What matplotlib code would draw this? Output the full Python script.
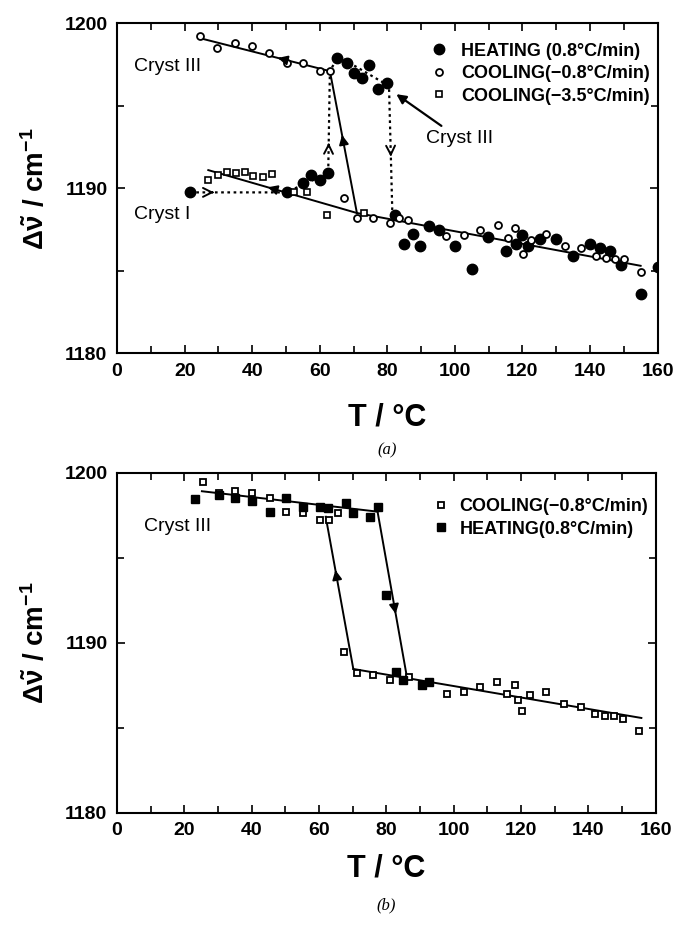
import numpy as np
import matplotlib.pyplot as plt
from matplotlib.ticker import MultipleLocator

plt.rcParams['font.family'] = ['Liberation Sans', 'DejaVu Sans']
plt.rcParams['mathtext.fontset'] = 'custom'
plt.rcParams['mathtext.rm'] = 'Liberation Sans:bold'
plt.rcParams['mathtext.it'] = 'Liberation Sans:bold'
plt.rcParams['mathtext.bf'] = 'Liberation Sans:bold'

# ---- panel (a) data ----
a_heat_T = [21.6, 50.2, 54.9, 57.4, 60.0, 62.5, 65.0, 68.0, 70.0, 72.4, 74.7, 77.3, 80.0,
            82.2, 84.9, 87.6, 89.8, 92.4, 95.3, 100.0, 105.1, 109.8, 115.1, 118.2, 120.0,
            121.7, 125.1, 130.0, 135.0, 140.1, 142.9, 145.8, 149.3, 155.1, 160.1]
a_heat_v = [1189.75, 1189.8, 1190.3, 1190.8, 1190.5, 1190.9, 1197.9, 1197.6, 1197.0, 1196.7,
            1197.5, 1196.0, 1196.4, 1188.4, 1186.65, 1187.2, 1186.5, 1187.7, 1187.45, 1186.5,
            1185.1, 1187.05, 1186.2, 1186.6, 1187.15, 1186.5, 1186.95, 1186.95, 1185.9,
            1186.6, 1186.4, 1186.2, 1185.35, 1183.6, 1185.2]

a_cool08_T = [24.5, 29.7, 34.9, 39.8, 45.1, 50.2, 54.9, 60.0, 63.0, 67.2, 70.9, 75.7, 80.7,
              83.4, 86.2, 97.5, 102.6, 107.4, 112.8, 115.7, 117.7, 120.2, 122.6, 127.1,
              132.5, 137.4, 141.9, 144.8, 147.3, 150.2, 155.0]
a_cool08_v = [1199.2, 1198.5, 1198.8, 1198.6, 1198.2, 1197.6, 1197.6, 1197.1, 1197.1, 1189.4,
              1188.2, 1188.2, 1187.9, 1188.2, 1188.1, 1187.1, 1187.15, 1187.45, 1187.8,
              1187.0, 1187.6, 1186.0, 1186.85, 1187.2, 1186.5, 1186.35, 1185.9, 1185.8,
              1185.74, 1185.7, 1184.9]

a_cool35_T = [27.0, 30.0, 32.4, 35.2, 37.9, 40.3, 43.1, 45.8, 52.4, 56.1, 62.2, 73.1]
a_cool35_v = [1190.5, 1190.8, 1191.0, 1190.9, 1191.0, 1190.75, 1190.7, 1190.85, 1189.8,
              1189.8, 1188.4, 1188.5]

# fit / guide lines
a_top_T, a_top_v = [24.5, 63.0], [1199.1, 1197.1]
a_jump_T, a_jump_v = [71.0, 63.0], [1188.5, 1197.1]
a_low_T, a_low_v = [27.0, 71.0, 155.0], [1191.1, 1188.5, 1185.3]
a_dot_T = [21.6, 50.0, 57.0, 62.5, 63.0, 65.5, 78.0, 80.5, 81.5]
a_dot_v = [1189.75, 1189.75, 1190.4, 1190.9, 1197.1, 1198.0, 1196.5, 1196.2, 1188.4]

# ---- panel (b) data ----
b_cool_T = [25.4, 30.3, 35.1, 40.1, 45.4, 50.2, 55.1, 60.3, 63.0, 65.5, 67.5, 71.2, 76.0,
            81.2, 86.6, 97.9, 103.0, 107.9, 112.9, 115.9, 118.2, 119.2, 120.4, 122.7, 127.5,
            132.9, 137.9, 141.9, 144.9, 147.7, 150.3, 155.2]
b_cool_v = [1199.43, 1198.8, 1198.9, 1198.8, 1198.5, 1197.7, 1197.6, 1197.2, 1197.2, 1197.6,
            1189.45, 1188.2, 1188.1, 1187.8, 1188.0, 1187.0, 1187.1, 1187.4, 1187.7, 1187.0,
            1187.5, 1186.65, 1186.0, 1186.9, 1187.1, 1186.4, 1186.2, 1185.8, 1185.7, 1185.7,
            1185.5, 1184.8]

b_heat_T = [23.2, 30.3, 35.1, 40.0, 45.4, 50.3, 55.1, 60.3, 62.6, 67.9, 70.1, 75.3, 77.4,
            80.0, 83.0, 85.1, 90.5, 92.7]
b_heat_v = [1198.45, 1198.7, 1198.5, 1198.3, 1197.7, 1198.5, 1198.0, 1198.0, 1197.9, 1198.2,
            1197.6, 1197.4, 1198.0, 1192.8, 1188.3, 1187.8, 1187.5, 1187.7]

b_top_T, b_top_v = [25.2, 77.4], [1198.9, 1197.7]
b_drop_T, b_drop_v = [77.4, 86.1], [1197.7, 1188.0]
b_jump_T, b_jump_v = [70.2, 62.0], [1188.45, 1197.4]
b_low_T, b_low_v = [70.2, 155.8], [1188.45, 1185.57]


def arrow_on(ax, T, v, frac, style='-|>', scale=14):
    # arrowhead placed part way along a 2-point segment, pointing from T[0] to T[1]
    T = np.asarray(T, float); v = np.asarray(v, float)
    p1 = (T[0] + (T[1] - T[0]) * frac, v[0] + (v[1] - v[0]) * frac)
    p0 = (T[0] + (T[1] - T[0]) * (frac - 0.02), v[0] + (v[1] - v[0]) * (frac - 0.02))
    ax.annotate('', xy=p1, xytext=p0,
                arrowprops=dict(arrowstyle=style, color='k', lw=1.4,
                                mutation_scale=scale, shrinkA=0, shrinkB=0))


def style_axes(ax, xpad):
    ax.set_xlim(0, 160)
    ax.set_ylim(1180, 1200)
    ax.xaxis.set_major_locator(MultipleLocator(20))
    ax.xaxis.set_minor_locator(MultipleLocator(10))
    ax.yaxis.set_major_locator(MultipleLocator(10))
    ax.yaxis.set_minor_locator(MultipleLocator(5))
    ax.tick_params(which='both', direction='in', top=True, right=True, width=1.2)
    ax.tick_params(which='major', length=6, labelsize=14, pad=7)
    ax.tick_params(which='minor', length=5)
    for lab in ax.get_xticklabels() + ax.get_yticklabels():
        lab.set_fontweight('bold')
    for sp in ax.spines.values():
        sp.set_linewidth(1.5)
    ax.set_xlabel('T / °C', fontsize=22, fontweight='bold', labelpad=xpad)
    ax.set_ylabel(r'$\Delta\tilde{\nu}$ / cm$^{-1}$', fontsize=20, fontweight='bold', labelpad=10)


def bold_legend(ax, anchor, textpad):
    leg = ax.legend(loc='upper right', bbox_to_anchor=anchor, frameon=False, fontsize=13,
                    handletextpad=textpad, labelspacing=0.3, borderaxespad=0.0,
                    handlelength=1.0, borderpad=0.2)
    for t in leg.get_texts():
        t.set_fontweight('bold')


fig = plt.figure(figsize=(6.73, 9.32), dpi=100)
ax1 = fig.add_axes([0.174, 0.621, 0.803, 0.354])
ax2 = fig.add_axes([0.174, 0.128, 0.800, 0.365])

# ---------- (a) ----------
ax1.plot(a_top_T, a_top_v, color='k', lw=1.4)
ax1.plot(a_jump_T, a_jump_v, color='k', lw=1.4)
ax1.plot(a_low_T, a_low_v, color='k', lw=1.4)
ax1.plot(a_dot_T, a_dot_v, color='k', lw=1.6, ls=(0, (1.2, 1.6)))
arrow_on(ax1, [a_top_T[1], a_top_T[0]], [a_top_v[1], a_top_v[0]], 0.40)
arrow_on(ax1, a_jump_T, a_jump_v, 0.55)
arrow_on(ax1, [a_low_T[1], a_low_T[0]], [a_low_v[1], a_low_v[0]], 0.60)
arrow_on(ax1, a_dot_T[0:2], a_dot_v[0:2], 0.25, style='->', scale=16)
arrow_on(ax1, a_dot_T[3:5], a_dot_v[3:5], 0.30, style='->', scale=16)
arrow_on(ax1, a_dot_T[7:9], a_dot_v[7:9], 0.55, style='->', scale=16)

ax1.plot(a_heat_T, a_heat_v, 'o', color='k', ms=7.5, ls='none',
         label='HEATING (0.8°C/min)')
ax1.plot(a_cool08_T, a_cool08_v, 'o', mfc='white', mec='k', mew=1.3, ms=5, ls='none',
         label='COOLING(−0.8°C/min)')
ax1.plot(a_cool35_T, a_cool35_v, 's', mfc='white', mec='k', mew=1.2, ms=5, ls='none',
         label='COOLING(−3.5°C/min)')

ax1.text(5.0, 1197.4, 'Cryst III', fontsize=14, va='center')
ax1.text(5.0, 1188.4, 'Cryst I', fontsize=14, va='center')
ax1.annotate('Cryst III', xy=(82.0, 1195.8), xytext=(91.5, 1193.0), fontsize=14,
             va='center', ha='left',
             arrowprops=dict(arrowstyle='-|>', color='k', lw=1.6, mutation_scale=14,
                             shrinkA=2, shrinkB=2))
bold_legend(ax1, (0.993, 0.952), 0.75)
style_axes(ax1, 16)
fig.text(0.5 * (0.174 + 0.977), 1 - 450 / 932, '(a)', fontsize=12, style='italic',
         family='Liberation Serif', ha='center', va='center')

# ---------- (b) ----------
ax2.plot(b_top_T, b_top_v, color='k', lw=1.4)
ax2.plot(b_drop_T, b_drop_v, color='k', lw=1.4)
ax2.plot(b_jump_T, b_jump_v, color='k', lw=1.4)
ax2.plot(b_low_T, b_low_v, color='k', lw=1.4)
arrow_on(ax2, b_drop_T, b_drop_v, 0.62)
arrow_on(ax2, b_jump_T, b_jump_v, 0.65)

ax2.plot(b_cool_T, b_cool_v, 's', mfc='white', mec='k', mew=1.3, ms=5, ls='none',
         label='COOLING(−0.8°C/min)')
ax2.plot(b_heat_T, b_heat_v, 's', color='k', ms=5.5, ls='none',
         label='HEATING(0.8°C/min)')
ax2.text(8.0, 1196.8, 'Cryst III', fontsize=14, va='center')
bold_legend(ax2, (0.993, 0.935), 0.5)
style_axes(ax2, 10)
fig.text(0.5 * (0.174 + 0.974), 1 - 905 / 932, '(b)', fontsize=12, style='italic',
         family='Liberation Serif', ha='center', va='center')

fig.savefig('out.png', dpi=100)
